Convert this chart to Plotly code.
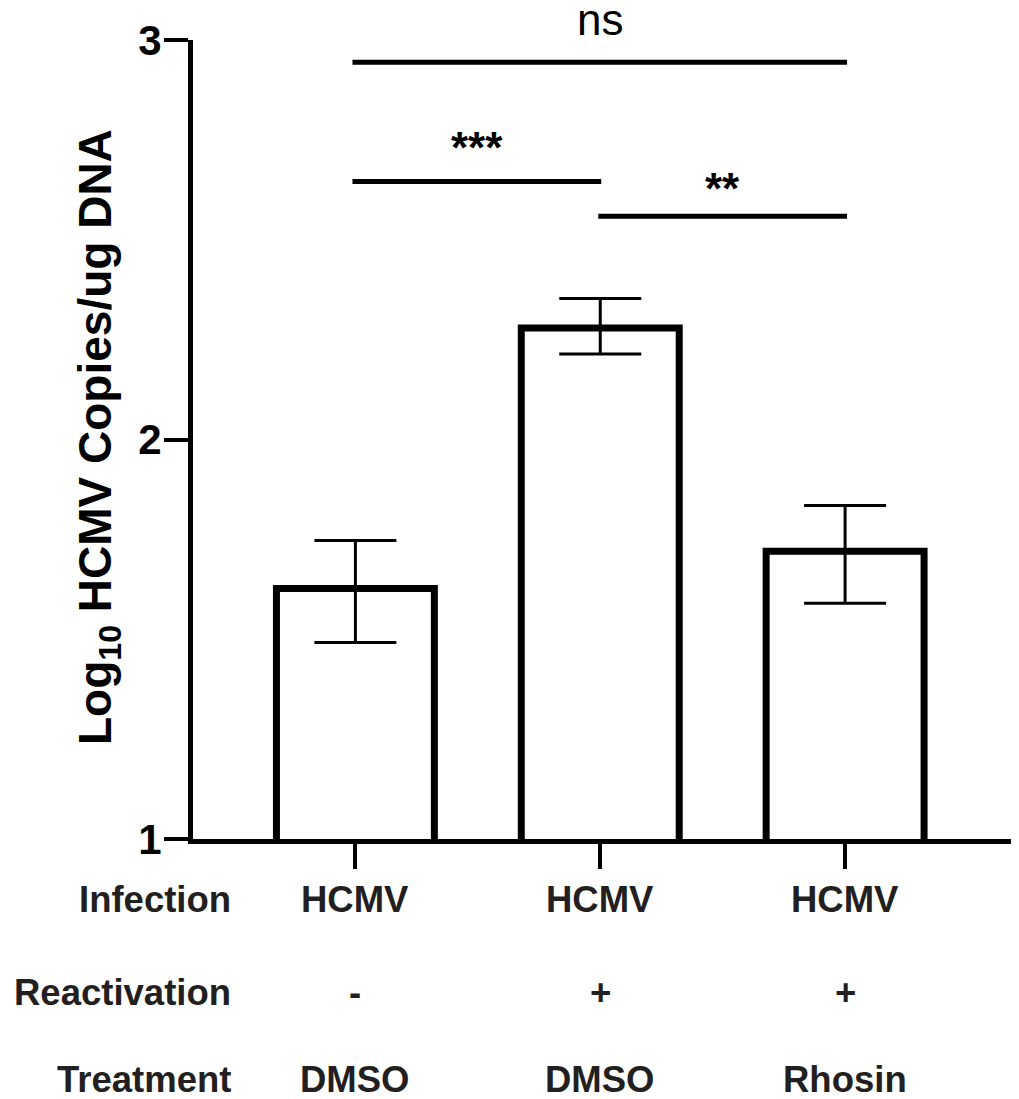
import plotly.graph_objects as go

# ---- data ----
x_pos = [0, 1, 2]
infection = ["HCMV", "HCMV", "HCMV"]
reactivation = ["-", "+", "+"]
treatment = ["DMSO", "DMSO", "Rhosin"]
row_headers = ["Infection", "Reactivation", "Treatment"]
means = [1.627, 2.279, 1.720]
err_plus = [0.120, 0.074, 0.115]
err_minus = [0.135, 0.065, 0.130]
y_ticks = [1, 2, 3]
# significance brackets
sig_x0 = [-0.012, -0.012, 0.992]
sig_x1 = [2.008, 1.004, 2.008]
sig_y = [2.944, 2.646, 2.559]
sig_text = ["ns", "***", "**"]

# ---- layout geometry (page pixels; the page body adds an 8px offset) ----
OFF = 8
W, H = 1019 - OFF, 1099 - OFF
plot_left, plot_right = 192.5, 1013      # page px
plot_top, plot_bottom = 40, 839          # page px
L = plot_left - OFF
R = W - (plot_right - OFF)
T = plot_top - OFF
B = H - (plot_bottom - OFF)
plot_w = plot_right - plot_left
plot_h = plot_bottom - plot_top


def px_x(p):
    return (p - plot_left) / plot_w


def px_y(p):
    return (plot_bottom - p) / plot_h


bold = "Liberation Sans, Arial, sans-serif"
txt_col = "#231f20"

fig = go.Figure()
fig.add_trace(go.Bar(
    x=x_pos, y=means, width=0.645,
    marker=dict(color="white", line=dict(color="black", width=7)),
    error_y=dict(type="data", symmetric=False, array=err_plus, arrayminus=err_minus,
                 color="black", thickness=3, width=41),
    showlegend=False,
))

shapes = []
annotations = []
sig_text_px = [19.5, 147, 189]
for x0, x1, yv, t, tp in zip(sig_x0, sig_x1, sig_y, sig_text, sig_text_px):
    shapes.append(dict(type="line", xref="x", yref="y", x0=x0, x1=x1, y0=yv, y1=yv,
                       line=dict(color="black", width=5)))
    is_ns = t == "ns"
    annotations.append(dict(x=(x0 + x1) / 2, y=px_y(tp), xref="x", yref="paper", text=t,
                            showarrow=False, xanchor="center", yanchor="middle",
                            font=dict(family=bold, size=44, color="black",
                                      weight="normal" if is_ns else "bold")))

row_y_px = [899, 992, 1079]
rows = [infection, reactivation, treatment]
for hdr, ypx, vals in zip(row_headers, row_y_px, rows):
    yp = px_y(ypx)
    annotations.append(dict(x=px_x(233), y=yp, xref="paper", yref="paper",
                            text=hdr, showarrow=False, xanchor="right", yanchor="middle",
                            font=dict(family=bold, size=36.5, color=txt_col, weight="bold")))
    for xv, v in zip(x_pos, vals):
        annotations.append(dict(x=xv, y=yp, xref="x", yref="paper", text=v, showarrow=False,
                                xanchor="center", yanchor="middle",
                                font=dict(family=bold, size=36.5, color=txt_col, weight="bold")))

annotations.append(dict(x=px_x(98), y=px_y(437.5), xref="paper", yref="paper",
                        text="Log<sub>10</sub> HCMV Copies/ug DNA", textangle=-90, showarrow=False,
                        xanchor="center", yanchor="middle",
                        font=dict(family=bold, size=46, color="black", weight="bold")))

fig.update_layout(
    width=W, height=H,
    margin=dict(l=L, r=R, t=T, b=B, pad=0),
    plot_bgcolor="white", paper_bgcolor="white",
    shapes=shapes, annotations=annotations,
    xaxis=dict(range=[-(355 - plot_left) / 245, 2 + (plot_right - 845) / 245],
               tickvals=x_pos, showticklabels=False,
               ticks="outside", ticklen=25, tickwidth=4, tickcolor="black",
               showline=True, linecolor="black", linewidth=5,
               showgrid=False, zeroline=False),
    yaxis=dict(range=[1, 3], tickvals=y_ticks, ticks="outside", ticklen=24, tickwidth=4,
               tickcolor="black", showline=True, linecolor="black", linewidth=5,
               showgrid=False, zeroline=False, ticklabelstandoff=-6,
               tickfont=dict(family=bold, size=42, color="black", weight="bold")),
)

fig.write_html("out.html")
